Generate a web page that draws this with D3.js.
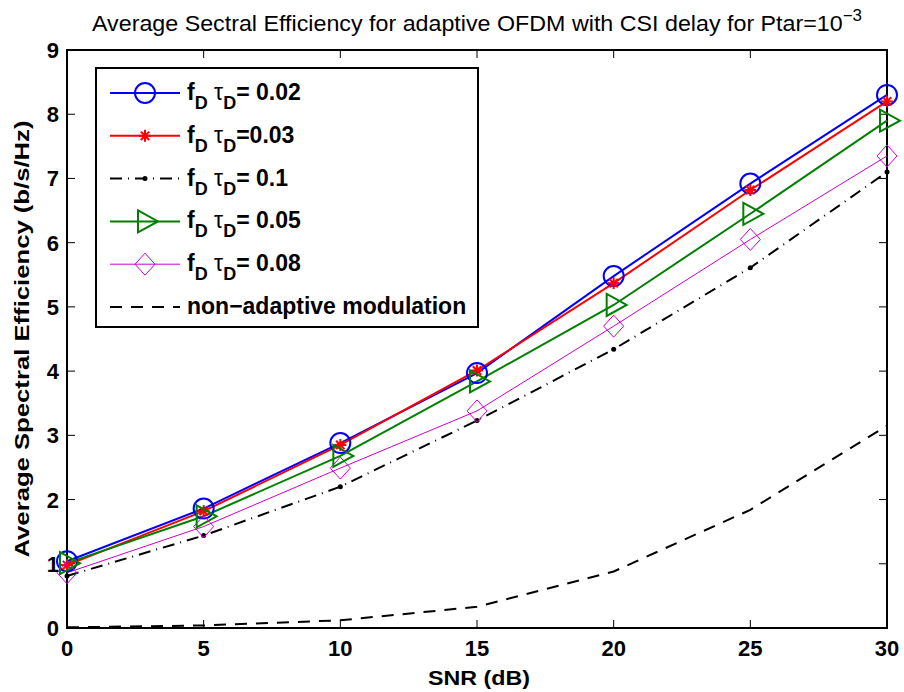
<!DOCTYPE html>
<html>
<head>
<meta charset="utf-8">
<script src="https://cdn.jsdelivr.net/npm/d3@7"></script>
<style>
  body { margin: 0; background: #fff; }
  text { font-family: "Liberation Sans", Arial, sans-serif; }
</style>
</head>
<body>
<div id="chart"></div>
<script>
// data
var snr = [0, 5, 10, 15, 20, 25, 30];
var se002 = [1.04, 1.86, 2.88, 3.97, 5.48, 6.92, 8.30];
var se003 = [0.98, 1.82, 2.85, 4.01, 5.37, 6.82, 8.20];
var se01  = [0.81, 1.44, 2.20, 3.23, 4.34, 5.61, 7.10];
var se005 = [1.01, 1.74, 2.68, 3.84, 5.03, 6.45, 7.90];
var se008 = [0.86, 1.58, 2.49, 3.38, 4.70, 6.05, 7.35];
var seNon = [0.01, 0.04, 0.12, 0.33, 0.88, 1.84, 3.15];
var xTicks = [0, 5, 10, 15, 20, 25, 30];
var yTicks = [0, 1, 2, 3, 4, 5, 6, 7, 8, 9];

var W = 904, H = 692;
var margin = {left: 67, right: 17, top: 50, bottom: 64};

var svg = d3.select('#chart').append('svg')
  .attr('width', W).attr('height', H);

var x = d3.scaleLinear().domain([0, 30]).range([margin.left, W - margin.right]);
var y = d3.scaleLinear().domain([0, 9]).range([H - margin.bottom, margin.top]);

var series = [
  {name: '0.02', sp: ' ', v: se002, color: '#0000ff', w: 2, dash: null, marker: 'circle'},
  {name: '0.03', sp: '', v: se003, color: '#ff0000', w: 2, dash: null, marker: 'star'},
  {name: '0.1', sp: ' ', v: se01, color: '#000000', w: 2, dash: '12,6,1,6', marker: 'dot'},
  {name: '0.05', sp: ' ', v: se005, color: '#008000', w: 2, dash: null, marker: 'tri'},
  {name: '0.08', sp: ' ', v: se008, color: '#cc00cc', w: 1, dash: null, marker: 'diamond'},
  {name: 'non', v: seNon, color: '#000000', w: 2, dash: '12,9', marker: null}
];

// axes box
var plot = svg.append('g');
plot.append('rect')
  .attr('x', x(0)).attr('y', y(9))
  .attr('width', x(30) - x(0)).attr('height', y(0) - y(9))
  .attr('fill', 'none').attr('stroke', '#000').attr('stroke-width', 2);

var tl = 8;
// ticks on all four sides, pointing inward
xTicks.forEach(function(t) {
  plot.append('line').attr('x1', x(t)).attr('x2', x(t)).attr('y1', y(0)).attr('y2', y(0) - tl)
    .attr('stroke', '#000').attr('stroke-width', 1);
  plot.append('line').attr('x1', x(t)).attr('x2', x(t)).attr('y1', y(9)).attr('y2', y(9) + tl)
    .attr('stroke', '#000').attr('stroke-width', 1);
  svg.append('text').attr('x', x(t)).attr('y', y(0) + 28)
    .attr('text-anchor', 'middle').attr('font-size', 22).attr('font-weight', 'bold')
    .text(t);
});
yTicks.forEach(function(t) {
  plot.append('line').attr('x1', x(0)).attr('x2', x(0) + tl).attr('y1', y(t)).attr('y2', y(t))
    .attr('stroke', '#000').attr('stroke-width', 1);
  plot.append('line').attr('x1', x(30)).attr('x2', x(30) - tl).attr('y1', y(t)).attr('y2', y(t))
    .attr('stroke', '#000').attr('stroke-width', 1);
  svg.append('text').attr('x', x(0) - 8).attr('y', y(t) + 8)
    .attr('text-anchor', 'end').attr('font-size', 22).attr('font-weight', 'bold')
    .text(t);
});

// lines
var line = d3.line().x(function(d, i) { return x(snr[i]); }).y(function(d) { return y(d); });
series.forEach(function(s) {
  plot.append('path').datum(s.v)
    .attr('d', line)
    .attr('fill', 'none').attr('stroke', s.color).attr('stroke-width', s.w)
    .attr('stroke-dasharray', s.dash);
});

function drawMarker(g, type, cx, cy, color) {
  if (type == 'circle') {
    g.append('circle').attr('cx', cx).attr('cy', cy).attr('r', 10)
      .attr('fill', 'none').attr('stroke', color).attr('stroke-width', 2);
  } else if (type == 'star') {
    var r = 6;
    [[r, 0], [0, r], [r * 0.7, r * 0.7], [r * 0.7, -r * 0.7]].forEach(function(p) {
      g.append('line').attr('x1', cx - p[0]).attr('y1', cy - p[1]).attr('x2', cx + p[0]).attr('y2', cy + p[1])
        .attr('stroke', color).attr('stroke-width', 2);
    });
  } else if (type == 'dot') {
    g.append('circle').attr('cx', cx).attr('cy', cy).attr('r', 2.5).attr('fill', color);
  } else if (type == 'tri') {
    g.append('path')
      .attr('d', 'M' + (cx - 7) + ',' + (cy - 11) + 'L' + (cx + 13) + ',' + cy + 'L' + (cx - 7) + ',' + (cy + 11) + 'Z')
      .attr('fill', 'none').attr('stroke', color).attr('stroke-width', 2);
  } else if (type == 'diamond') {
    g.append('path')
      .attr('d', 'M' + cx + ',' + (cy - 11) + 'L' + (cx + 10) + ',' + cy + 'L' + cx + ',' + (cy + 11) + 'L' + (cx - 10) + ',' + cy + 'Z')
      .attr('fill', 'none').attr('stroke', color).attr('stroke-width', 1);
  }
}

series.forEach(function(s) {
  if (!s.marker) return;
  s.v.forEach(function(d, i) { drawMarker(plot, s.marker, x(snr[i]), y(d), s.color); });
});

// legend
var lg = svg.append('g');
lg.append('rect').attr('x', 96).attr('y', 68).attr('width', 382).attr('height', 259)
  .attr('fill', '#fff').attr('stroke', '#000').attr('stroke-width', 2);
series.forEach(function(s, i) {
  var ry = 93 + i * 42.8;
  lg.append('line').attr('x1', 110).attr('x2', 180).attr('y1', ry).attr('y2', ry)
    .attr('stroke', s.color).attr('stroke-width', s.w).attr('stroke-dasharray', s.dash);
  if (s.marker) drawMarker(lg, s.marker, 145, ry, s.color);
  var t = lg.append('text').attr('x', 187).attr('y', ry + 7)
    .attr('font-size', 23).attr('font-weight', 'bold');
  if (s.name == 'non') {
    t.text('non\u2212adaptive modulation');
  } else {
    t.append('tspan').text('f');
    t.append('tspan').attr('dy', 9).attr('font-size', 18).text('D');
    t.append('tspan').attr('dy', -9).attr('font-weight', 'normal').text(' \u03c4');
    t.append('tspan').attr('dy', 9).attr('font-size', 18).text('D');
    t.append('tspan').attr('dy', -9).text('=' + s.sp + s.name);
  }
});

// title and axis labels
var title = svg.append('text').attr('x', 92).attr('y', 31)
  .attr('font-size', 22)
  .attr('textLength', 770).attr('lengthAdjust', 'spacingAndGlyphs');
title.append('tspan').text('Average Sectral Efficiency for adaptive OFDM with CSI delay for Ptar=10');
title.append('tspan').attr('dy', -10).attr('font-size', 16).text('\u22123');

svg.append('text').attr('x', 428).attr('y', 685)
  .attr('font-size', 21).attr('font-weight', 'bold')
  .attr('textLength', 102).attr('lengthAdjust', 'spacingAndGlyphs')
  .text('SNR (dB)');

svg.append('text')
  .attr('transform', 'translate(29,' + ((y(0) + y(9)) / 2) + ') rotate(-90)')
  .attr('text-anchor', 'middle').attr('font-size', 21).attr('font-weight', 'bold')
  .attr('textLength', 437).attr('lengthAdjust', 'spacingAndGlyphs')
  .text('Average Spectral Efficiency (b/s/Hz)');
</script>
</body>
</html>
